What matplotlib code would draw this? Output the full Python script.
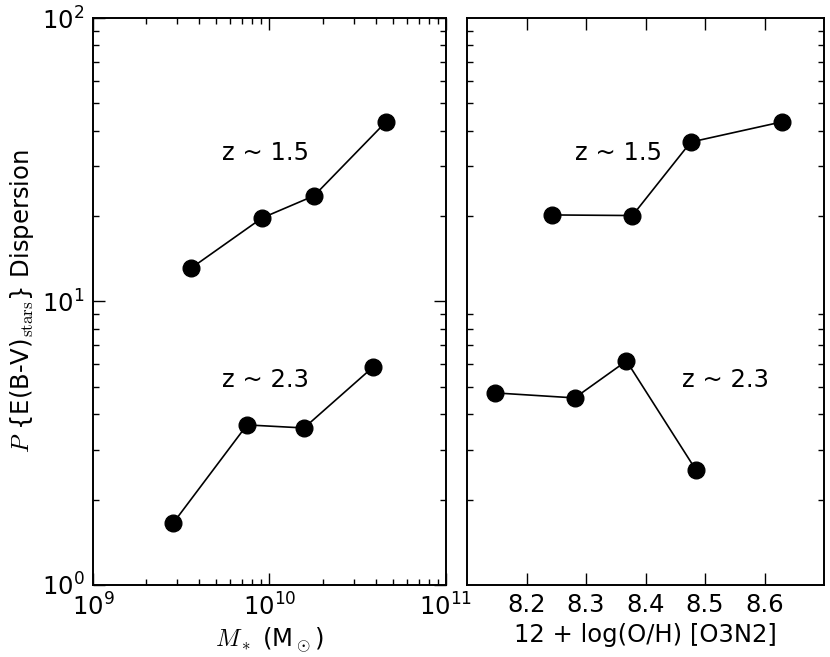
import numpy as np
import matplotlib
matplotlib.use('Agg')
from matplotlib import pyplot as plt

plt.rcParams['mathtext.fontset'] = 'cm'
plt.rcParams['font.size'] = 17.5

# stellar mass bins
mass_z15 = [3.59e9, 9.07e9, 1.79e10, 4.57e10]
disp_mass_z15 = [13.1, 19.7, 23.6, 43.0]
mass_z23 = [2.84e9, 7.46e9, 1.57e10, 3.86e10]
disp_mass_z23 = [1.65, 3.67, 3.58, 5.87]

# metallicity bins
oh_z15 = [8.242, 8.378, 8.476, 8.629]
disp_oh_z15 = [20.2, 20.1, 36.5, 43.0]
oh_z23 = [8.147, 8.281, 8.368, 8.485]
disp_oh_z23 = [4.76, 4.57, 6.17, 2.54]

fig = plt.figure(figsize=(8.3, 6.57), dpi=100)
ax1 = fig.add_axes([0.1120, 0.1096, 0.4253, 0.863])
ax2 = fig.add_axes([0.5627, 0.1096, 0.4301, 0.863])

for ax in (ax1, ax2):
    ax.set_yscale('log')
    ax.set_ylim(1, 100)
    ax.tick_params(which='both', direction='in', top=True, right=True, width=1)
    ax.tick_params(which='major', length=8.5, pad=6)
    ax.tick_params(which='minor', length=4.5)
    for s in ax.spines.values():
        s.set_linewidth(1.4)

ax1.plot(mass_z15, disp_mass_z15, 'k-o', ms=12, lw=1.2)
ax1.plot(mass_z23, disp_mass_z23, 'k-o', ms=12, lw=1.2)
ax1.set_xscale('log')
ax1.set_xlim(1e9, 1e11)
ax1.text(5.4e9, 33.5, 'z ~ 1.5', va='center')
ax1.text(5.4e9, 5.3, 'z ~ 2.3', va='center')
ax1.set_xlabel(r'$M_*$ (M$_\odot$)')
ax1.set_ylabel(r'$P$ {E(B-V)$_{\rm stars}$} Dispersion')

ax2.plot(oh_z15, disp_oh_z15, 'k-o', ms=12, lw=1.2)
ax2.plot(oh_z23, disp_oh_z23, 'k-o', ms=12, lw=1.2)
ax2.set_xlim(8.1, 8.7)
ax2.set_xticks([8.2, 8.3, 8.4, 8.5, 8.6])
ax2.set_yticks([])
ax2.tick_params(axis='y', which='minor', labelleft=False)
ax2.text(8.281, 33.5, 'z ~ 1.5', va='center')
ax2.text(8.462, 5.3, 'z ~ 2.3', va='center')
ax2.set_xlabel('12 + log(O/H) [O3N2]')

fig.savefig('out.png', dpi=100)
